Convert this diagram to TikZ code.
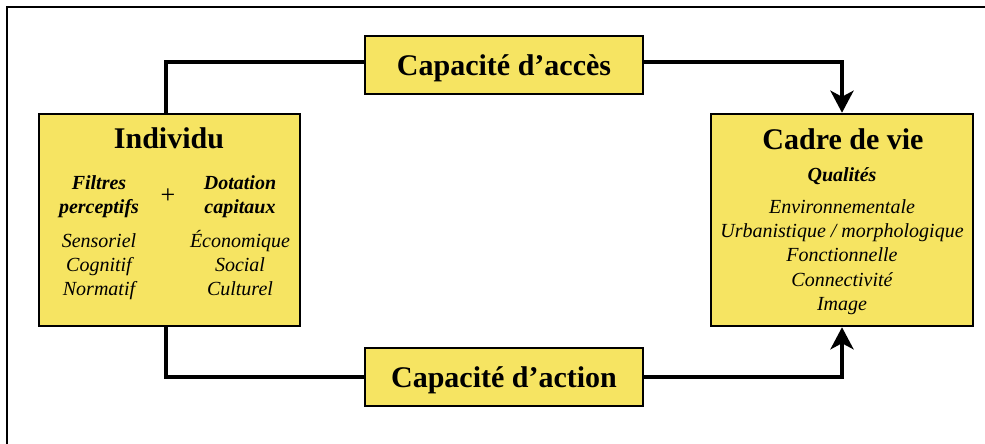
\documentclass[tikz,border=0pt]{standalone}
\usepackage{fontspec}
\setmainfont{Liberation Serif}
\usetikzlibrary{arrows.meta}
\definecolor{boxyellow}{RGB}{246,228,98}
\newcommand{\bigbf}{\fontsize{30}{30}\selectfont\bfseries}
\newcommand{\smbi}{\fontsize{20}{20}\selectfont\bfseries\itshape}
\newcommand{\smit}{\fontsize{20}{20}\selectfont\itshape}
\newcommand{\plusf}{\fontsize{26}{26}\selectfont}
\begin{document}
\begin{tikzpicture}[x=1pt,y=-1pt,
  box/.style={draw=black, line width=2.5pt, fill=boxyellow, inner sep=0pt},
  conn/.style={line width=4.5pt},
  arr/.style={conn, -{Stealth[length=22pt,width=23pt,inset=6pt]}},
  title/.style={anchor=base, font=\bigbf, inner sep=0pt},
  hd/.style={anchor=base, font=\smbi, inner sep=0pt},
  it/.style={anchor=base, font=\smit, inner sep=0pt}]
\useasboundingbox (0,0) rectangle (985,444);
\fill[white] (0,0) rectangle (985,444);
\draw[line width=2.5pt] (7,446) -- (7,7) -- (987,7);

% boxes
\node[box, minimum width=261pt, minimum height=212pt] (ind) at (169.5,220) {};
\node[box, minimum width=262pt, minimum height=212pt] (cad) at (842,220) {};
\node[box, minimum width=278pt, minimum height=58pt] (acc) at (504,65) {};
\node[box, minimum width=278pt, minimum height=58pt] (act) at (504,377) {};

% connectors
\draw[conn] ([xshift=-3.5pt]ind.north) |- ([yshift=3pt]acc.west);
\draw[arr] ([yshift=3pt]acc.east) -| (cad.north);
\draw[conn] ([xshift=-3.5pt]ind.south) |- (act.west);
\draw[arr] (act.east) -| (cad.south);

% box titles
\node[title] (acct) at (504,75) {Capacité d’accès};
\node[title] (actt) at (504,387) {Capacité d’action};
\node[title] (indt) at (169,148) {Individu};
\node[title] (cadt) at (843,149) {Cadre de vie};

% Individu contents
\node[hd] (f1) at (99,189) {Filtres};
\node[hd] (f2) at (99,213) {perceptifs};
\node[it] (f3) at (99,247) {Sensoriel};
\node[it] (f4) at (99,271) {Cognitif};
\node[it] (f5) at (99,295) {Normatif};
\node[anchor=center, font=\plusf, inner sep=0pt] (plus) at (168,196) {+};
\node[hd] (d1) at (240,189) {Dotation};
\node[hd] (d2) at (240,213) {capitaux};
\node[it] (d3) at (240,247) {Économique};
\node[it] (d4) at (240,271) {Social};
\node[it] (d5) at (240,295) {Culturel};

% Cadre de vie contents
\node[hd] (q0) at (842,181) {Qualités};
\node[it] (q1) at (842,213) {Environnementale};
\node[it] (q2) at (842,237) {Urbanistique / morphologique};
\node[it] (q3) at (842,261) {Fonctionnelle};
\node[it] (q4) at (842,286) {Connectivité};
\node[it] (q5) at (842,310) {Image};
\end{tikzpicture}
\end{document}
